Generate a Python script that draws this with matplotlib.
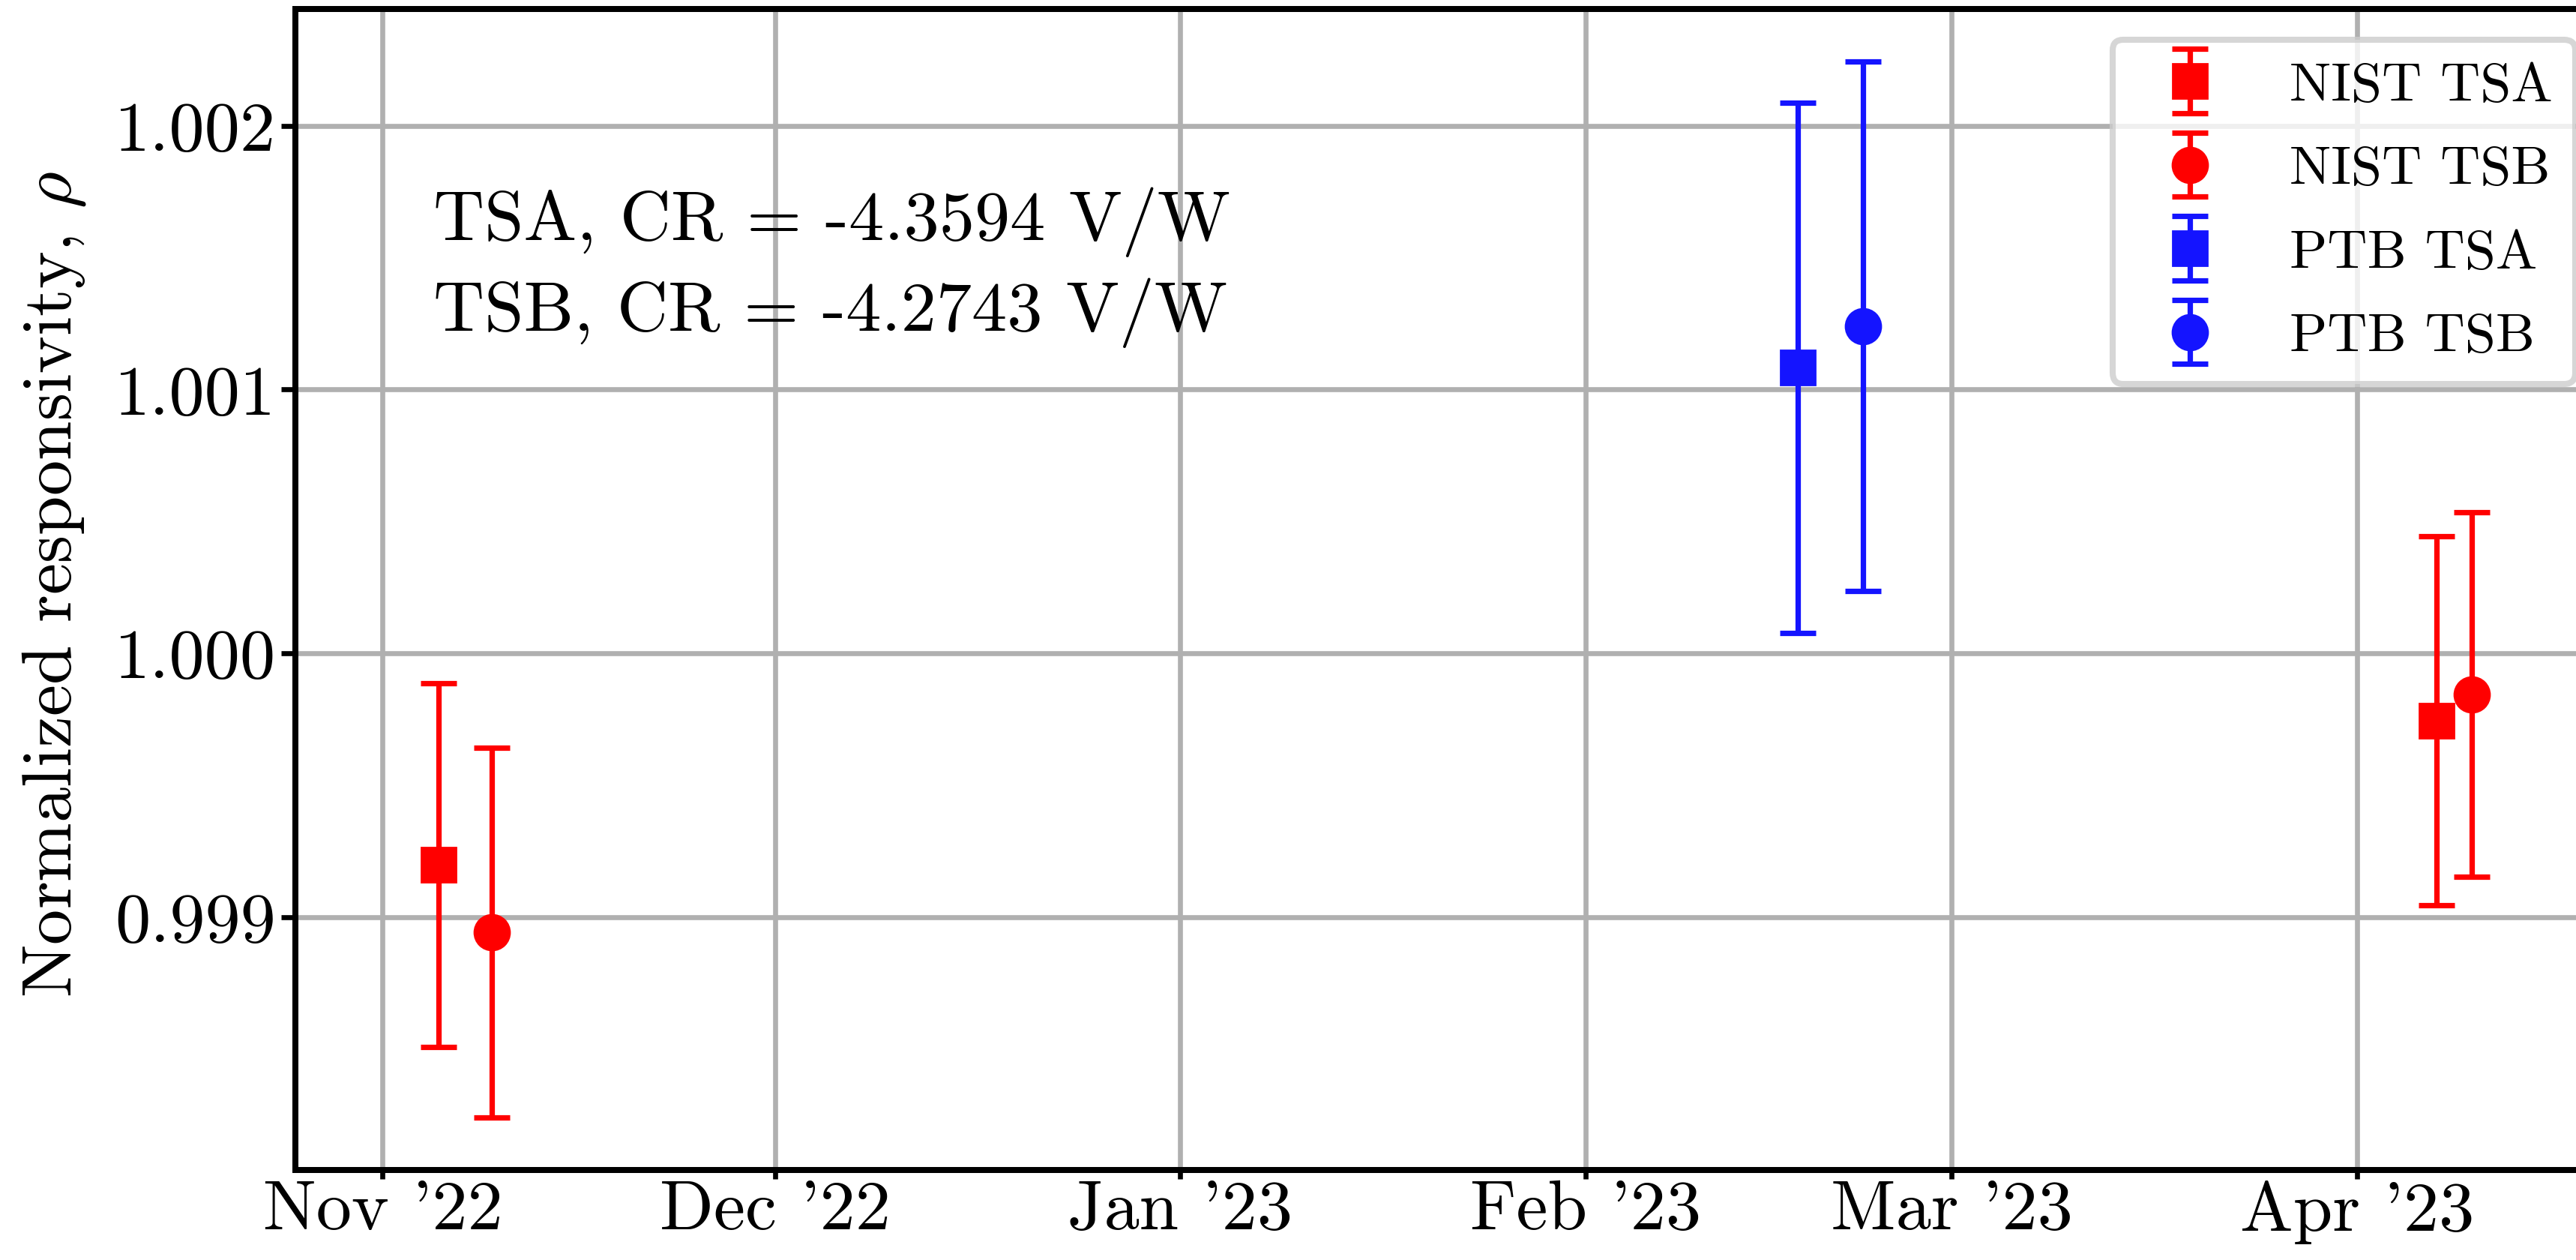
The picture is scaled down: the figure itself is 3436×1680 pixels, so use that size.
import datetime as dt
import matplotlib
matplotlib.use("Agg")
import matplotlib.pyplot as plt
import matplotlib.dates as mdates
from matplotlib.ticker import MultipleLocator, FormatStrFormatter
from matplotlib.legend_handler import HandlerErrorbar
from matplotlib.container import ErrorbarContainer

plt.rcParams['font.family'] = 'cmr10'
plt.rcParams['mathtext.fontset'] = 'cm'
plt.rcParams['axes.unicode_minus'] = False

# valores
nist_tsa_fechas = [dt.datetime(2022, 11, 5, 7), dt.datetime(2023, 4, 7, 2)]
nist_tsa = [0.999197, 0.999745]
nist_tsa_err = [0.00069, 0.00070]

nist_tsb_fechas = [dt.datetime(2022, 11, 9, 8), dt.datetime(2023, 4, 9, 19)]
nist_tsb = [0.998941, 0.999844]
nist_tsb_err = [0.00070, 0.00069]

ptb_tsa_fechas = [dt.datetime(2023, 2, 17, 5)]
ptb_tsa = [1.001083]
ptb_tsa_err = [0.001005]

ptb_tsb_fechas = [dt.datetime(2023, 2, 22, 6)]
ptb_tsb = [1.001240]
ptb_tsb_err = [0.001003]

rojo = '#ff0000'
azul = '#1414ff'

fig = plt.figure(figsize=(17.18, 8.405), dpi=200)
ax = fig.add_axes([0.1147, 0.0714, 0.8967, 0.9209])

estilo = dict(ls='none', ms=16.9, elinewidth=2.6, capsize=8.5, capthick=2.6)
ax.errorbar(nist_tsa_fechas, nist_tsa, yerr=nist_tsa_err, fmt='s', color=rojo,
            label='NIST TSA', **estilo)
ax.errorbar(nist_tsb_fechas, nist_tsb, yerr=nist_tsb_err, fmt='o', color=rojo,
            label='NIST TSB', **estilo)
ax.errorbar(ptb_tsa_fechas, ptb_tsa, yerr=ptb_tsa_err, fmt='s', color=azul,
            label='PTB TSA', **estilo)
ax.errorbar(ptb_tsb_fechas, ptb_tsb, yerr=ptb_tsb_err, fmt='o', color=azul,
            label='PTB TSB', **estilo)

ax.set_xlim(dt.datetime(2022, 10, 25, 8), dt.datetime(2023, 4, 20))
ax.xaxis.set_major_locator(mdates.MonthLocator())
ax.xaxis.set_major_formatter(mdates.DateFormatter("%b '%y"))
ax.yaxis.set_major_locator(MultipleLocator(0.001))
ax.yaxis.set_major_formatter(FormatStrFormatter('%.3f'))

ax.grid(True, color='#b0b0b0', lw=2.4)
for s in ax.spines.values():
    s.set_linewidth(2.88)
ax.tick_params(axis='both', labelsize=34, width=2.4)
ax.tick_params(axis='y', length=6.8, pad=2.5)
ax.tick_params(axis='x', length=4.2, pad=0.5)

ax.set_ylabel(r'Normalized responsivity, $\rho$', fontsize=34)
ax.yaxis.set_label_coords(-0.0899, 0.505)

ax.text(0.0597, 0.8475, "TSA, CR = -4.3594 V/W\nTSB, CR = -4.2743 V/W",
        transform=ax.transAxes, va='top', ha='left', fontsize=34, linespacing=1.4)

leg = ax.legend(loc='upper right', fontsize=26.6, labelspacing=0.62,
                borderaxespad=0.55,
                handler_map={ErrorbarContainer: HandlerErrorbar(yerr_size=0.58)})
leg.get_frame().set_linewidth(2.9)

fig.savefig('out.png', dpi=200)
